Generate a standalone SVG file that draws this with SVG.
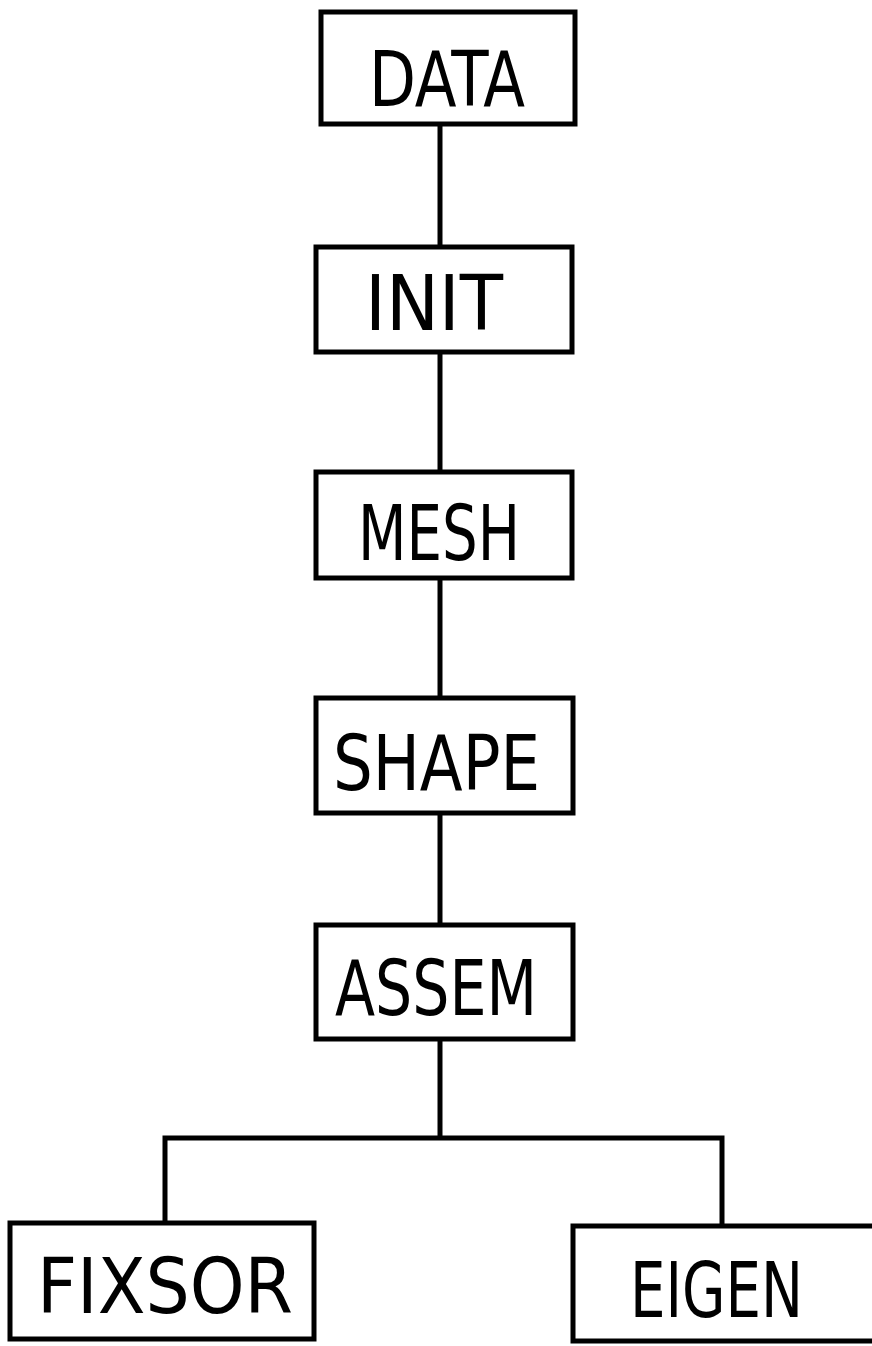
<svg xmlns="http://www.w3.org/2000/svg" width="872" height="1346" viewBox="0 0 872 1346">
<style>
.box{fill:#fff;stroke:#000;stroke-width:5}
.lbl{font-family:"DejaVu Sans Condensed","DejaVu Sans",sans-serif;font-size:76px;fill:#000}
.con{fill:none;stroke:#000;stroke-width:5}
</style>
<rect width="872" height="1346" fill="#fff"/>
<g id="connectors">
<line class="con" x1="440" y1="124" x2="440" y2="247"/>
<line class="con" x1="440" y1="352" x2="440" y2="472"/>
<line class="con" x1="440" y1="578" x2="440" y2="698"/>
<line class="con" x1="440" y1="813" x2="440" y2="925"/>
<line class="con" x1="440" y1="1039" x2="440" y2="1138"/>
<polyline class="con" points="165,1223 165,1138 722,1138 722,1226"/>
</g>
<g id="DATA"><rect class="box" x="321" y="12" width="254" height="112"/><text class="lbl" x="369" y="106" textLength="156" lengthAdjust="spacingAndGlyphs">DATA</text></g>
<g id="INIT"><rect class="box" x="316" y="247" width="256" height="105"/><text class="lbl" x="365" y="330" font-size="73" textLength="138" lengthAdjust="spacingAndGlyphs">INIT</text></g>
<g id="MESH"><rect class="box" x="316" y="472" width="256" height="106"/><text class="lbl" x="358" y="560" textLength="162" lengthAdjust="spacingAndGlyphs">MESH</text></g>
<g id="SHAPE"><rect class="box" x="316" y="698" width="257" height="115"/><text class="lbl" x="333" y="790" textLength="207" lengthAdjust="spacingAndGlyphs">SHAPE</text></g>
<g id="ASSEM"><rect class="box" x="316" y="925" width="257" height="114"/><text class="lbl" x="335" y="1015" textLength="202" lengthAdjust="spacingAndGlyphs">ASSEM</text></g>
<g id="FIXSOR"><rect class="box" x="10" y="1223" width="304" height="116"/><text class="lbl" x="37" y="1313" font-size="82" textLength="256" lengthAdjust="spacingAndGlyphs">FIXSOR</text></g>
<g id="EIGEN"><rect class="box" x="573" y="1226" width="310" height="115"/><text class="lbl" x="630" y="1317" textLength="173" lengthAdjust="spacingAndGlyphs">EIGEN</text></g>
</svg>
